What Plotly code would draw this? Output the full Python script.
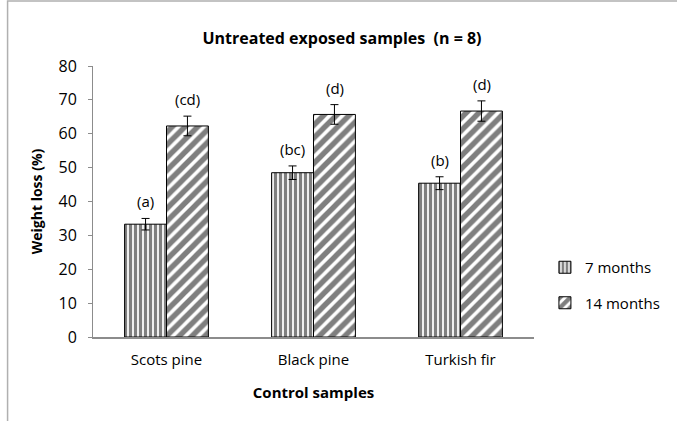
import plotly.graph_objects as go

categories = ["Scots pine", "Black pine", "Turkish fir"]
series_names = ["7 months", "14 months"]
values_7 = [33.3, 48.5, 45.4]
values_14 = [62.3, 65.7, 66.7]
err_7 = [1.7, 2.0, 1.9]
err_14 = [2.9, 2.9, 3.0]
letters_7 = ["(a)", "(bc)", "(b)"]
letters_14 = ["(cd)", "(d)", "(d)"]
y_ticks = [0, 10, 20, 30, 40, 50, 60, 70, 80]

FONT = "Open Sans"
L, R, T, B = 93, 140, 66, 84
W, H = 677, 421
PW, PH = W - L - R, H - T - B

fig = go.Figure()
fig.add_trace(go.Bar(
    x=categories, y=values_7, name=series_names[0],
    marker=dict(color="white", line=dict(color="black", width=1),
                pattern=dict(shape="|", fgcolor="black", bgcolor="white", size=5, solidity=0.65)),
    error_y=dict(type="data", array=err_7, color="black", thickness=1, width=4),
    legendgroup="a",
))
fig.add_trace(go.Bar(
    x=categories, y=values_14, name=series_names[1],
    marker=dict(color="white", line=dict(color="black", width=1),
                pattern=dict(shape="/", fgcolor="black", bgcolor="white", size=9, solidity=0.6)),
    error_y=dict(type="data", array=err_14, color="black", thickness=1, width=4),
    legendgroup="b",
))

for i, c in enumerate(categories):
    fig.add_annotation(x=c, y=values_7[i] + err_7[i], text=letters_7[i], xshift=-21,
                       yshift=5, yanchor="bottom", showarrow=False,
                       font=dict(family=FONT, size=15, color="black"))
    fig.add_annotation(x=c, y=values_14[i] + err_14[i], text=letters_14[i], xshift=21,
                       yshift=5, yanchor="bottom", showarrow=False,
                       font=dict(family=FONT, size=15, color="black"))

fig.add_shape(type="rect", xref="paper", yref="paper", x0=(7 - L) / PW, x1=1.6,
              y0=-0.6, y1=(H - B - 1) / PH, line=dict(color="#b0b0b0", width=1.5),
              fillcolor="rgba(0,0,0,0)", layer="below")

fig.update_layout(
    width=W, height=H,
    margin=dict(l=L, r=R, t=T, b=B),
    paper_bgcolor="white", plot_bgcolor="white",
    barmode="group", bargap=0.43, bargroupgap=0,
    font=dict(family=FONT, size=15, color="black"),
    title=dict(text="<b>Untreated exposed samples  (n = 8)</b>", x=342 / W, xref="container",
               xanchor="center", y=1 - 38 / H, yanchor="middle", yref="container",
               font=dict(family=FONT, size=16, color="black")),
    xaxis=dict(showline=True, linecolor="#8c8c8c", linewidth=1.5, automargin=False,
               ticks="outside", ticklen=8, tickcolor="rgba(0,0,0,0)",
               title=dict(text="<b>Control samples</b>", font=dict(family=FONT, size=15), standoff=20),
               tickfont=dict(family=FONT, size=15)),
    yaxis=dict(range=[0, 80], tickvals=y_ticks, showgrid=False, zeroline=False, automargin=False,
               showline=True, linecolor="#8c8c8c", linewidth=1, ticks="outside", ticklen=4,
               tickcolor="#8c8c8c", ticklabelstandoff=8,
               title=dict(text="<b>Weight loss (%)</b>", font=dict(family=FONT, size=14), standoff=12),
               tickfont=dict(family=FONT, size=16)),
    legend=dict(x=(548 - L) / PW, xanchor="left", y=(H - B - 285) / PH, yanchor="middle",
                font=dict(family=FONT, size=15), tracegroupgap=13, traceorder="grouped",
                itemwidth=30, bgcolor="rgba(0,0,0,0)"),
)

fig.write_html("out.html", config={"displayModeBar": False},
               post_script="document.body.style.margin='0';")
